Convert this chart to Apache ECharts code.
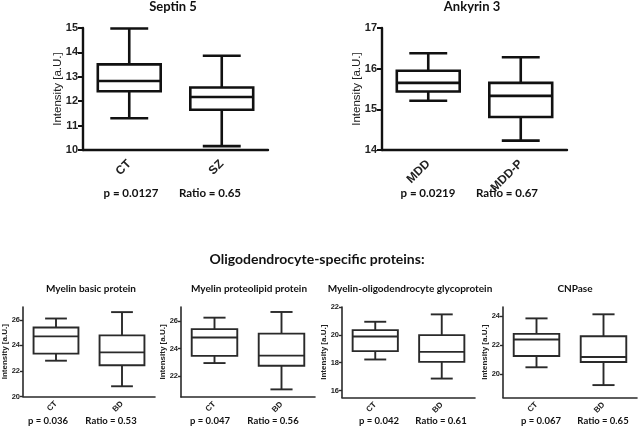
<!DOCTYPE html>
<html><head><meta charset="utf-8">
<script src="https://cdn.jsdelivr.net/npm/echarts@6/dist/echarts.min.js"></script>
<style>html,body{margin:0;padding:0;background:#fff}#c{width:640px;height:427px}</style>
</head><body><div id="c"></div>
<script>
// ---- data ----
const septinCats = ['CT', 'SZ'];
const septinVals = [[11.3, 12.41, 12.83, 13.51, 14.98], [10.16, 11.65, 12.17, 12.56, 13.86]]; // min,q1,med,q3,max
const septinTicks = [10, 11, 12, 13, 14, 15];

const ankCats = ['MDD', 'MDD-P'];
const ankVals = [[15.21, 15.44, 15.65, 15.95, 16.38], [14.23, 14.81, 15.33, 15.65, 16.28]];
const ankTicks = [14, 15, 16, 17];

const mbpCats = ['CT', 'BD'];
const mbpVals = [[22.8, 23.35, 24.7, 25.4, 26.1], [20.8, 22.45, 23.45, 24.78, 26.6]];
const mbpTicks = [20, 22, 24, 26];

const mplpCats = ['CT', 'BD'];
const mplpVals = [[22.95, 23.47, 24.8, 25.4, 26.23], [21.05, 22.76, 23.49, 25.08, 26.64]];
const mplpTicks = [22, 24, 26];

const mogCats = ['CT', 'BD'];
const mogVals = [[18.23, 18.83, 19.88, 20.34, 20.94], [16.86, 18.06, 18.78, 19.98, 21.47]];
const mogTicks = [16, 18, 20, 22];

const cnpCats = ['CT', 'BD'];
const cnpVals = [[20.47, 21.24, 22.37, 22.76, 23.82], [19.25, 20.83, 21.17, 22.6, 24.1]];
const cnpTicks = [20, 22, 24];

const panelTitles = ['Septin 5', 'Ankyrin 3', 'Myelin basic protein', 'Myelin proteolipid protein', 'Myelin-oligodendrocyte glycoprotein', 'CNPase'];
const pTexts = ['p = 0.0127', 'p = 0.0219', 'p = 0.036', 'p = 0.047', 'p = 0.042', 'p = 0.067'];
const ratioTexts = ['Ratio = 0.65', 'Ratio = 0.67', 'Ratio = 0.53', 'Ratio = 0.56', 'Ratio = 0.61', 'Ratio = 0.65'];
const sectionTitle = 'Oligodendrocyte-specific proteins:';
const yName = 'Intensity [a.U.]';

// ---- layout ----
const panels = [
  {cats: septinCats, vals: septinVals, ticks: septinTicks, min: 10, max: 15, left: 83, top: 28, width: 185, height: 122, big: true},
  {cats: ankCats, vals: ankVals, ticks: ankTicks, min: 14, max: 17, left: 382, top: 28, width: 185, height: 122, big: true},
  {cats: mbpCats, vals: mbpVals, ticks: mbpTicks, min: 20, max: 27, left: 22, top: 307, width: 133, height: 89.5, big: false},
  {cats: mplpCats, vals: mplpVals, ticks: mplpTicks, min: 20.5, max: 27, left: 181, top: 307, width: 134, height: 90, big: false},
  {cats: mogCats, vals: mogVals, ticks: mogTicks, min: 15.5, max: 22, left: 342, top: 307, width: 133, height: 90.5, big: false},
  {cats: cnpCats, vals: cnpVals, ticks: cnpTicks, min: 18.4, max: 24.6, left: 503, top: 307, width: 134, height: 90.5, big: false}
];
const titlePos = [[173, 0], [472, 0], [91, 284], [249, 284], [410, 284], [575, 284]];
const pPos = [[131, 187, 210, 187], [428, 187, 507, 187], [48, 415.5, 111, 415.5], [210, 415.5, 273, 415.5], [379, 415.5, 441, 415.5], [541, 415.5, 603, 415.5]];

const grids = [], xAxes = [], yAxes = [], series = [], titles = [];
panels.forEach((p, i) => {
  const col = p.big ? '#111' : '#2a2a2a';
  const lw = p.big ? 2.6 : 1.9;
  grids.push({left: p.left, top: p.top, width: p.width, height: p.height});
  xAxes.push({
    type: 'category', gridIndex: i, data: p.cats,
    axisLine: {lineStyle: {color: col, width: p.big ? 2.4 : 1.6}},
    axisTick: {alignWithLabel: true, length: p.big ? 5 : 4, lineStyle: {color: col, width: p.big ? 2 : 1.4}},
    axisLabel: {rotate: 45, color: '#222', fontFamily: 'Liberation Sans', fontWeight: 'bold',
      fontSize: p.big ? 12 : 8, margin: p.big ? 12 : 6}
  });
  yAxes.push({
    type: 'value', gridIndex: i, min: p.min, max: p.max,
    splitLine: {show: false},
    axisLine: {show: true, lineStyle: {color: col, width: p.big ? 2.4 : 1.6}},
    axisTick: {show: true, customValues: p.ticks, length: p.big ? 5 : 3, lineStyle: {color: col, width: p.big ? 2 : 1.4}},
    axisLabel: {customValues: p.ticks, color: '#222', fontFamily: 'Liberation Sans', fontWeight: 'bold',
      fontSize: p.big ? 11 : 7.5, margin: p.big ? 5 : 3},
    name: yName, nameLocation: 'middle', nameRotate: 90, nameGap: p.big ? 19 : 14, nameMoveOverlap: false,
    nameTextStyle: {color: '#222', fontFamily: 'Liberation Sans', fontSize: p.big ? 11.5 : 8, fontWeight: p.big ? 'normal' : 'bold'}
  });
  const boxFrac = 0.68, capFrac = p.big ? 0.41 : 0.33;
  series.push({
    type: 'custom', xAxisIndex: i, yAxisIndex: i,
    data: p.vals.map((v, k) => [k].concat(v)),
    encode: {x: 0, y: [1, 2, 3, 4, 5]},
    renderItem: function (params, api) {
      const k = api.value(0);
      const cx = api.coord([k, 0])[0];
      const band = api.size([1, 0])[0];
      const bw = band * boxFrac, cw = band * capFrac;
      const y = [1, 2, 3, 4, 5].map(j => api.coord([k, api.value(j)])[1]);
      const st = {stroke: col, lineWidth: lw, fill: null};
      const line = (x1, y1, x2, y2) => ({type: 'line', shape: {x1, y1, x2, y2}, style: st});
      return {type: 'group', children: [
        line(cx, y[3], cx, y[4]),
        line(cx, y[1], cx, y[0]),
        line(cx - cw / 2, y[4], cx + cw / 2, y[4]),
        line(cx - cw / 2, y[0], cx + cw / 2, y[0]),
        {type: 'rect', shape: {x: cx - bw / 2, y: y[3], width: bw, height: y[1] - y[3]}, style: {stroke: col, lineWidth: lw, fill: '#fff'}},
        line(cx - bw / 2, y[2], cx + bw / 2, y[2])
      ]};
    }
  });
  titles.push({text: panelTitles[i], left: titlePos[i][0], top: titlePos[i][1], textAlign: 'center',
    textStyle: {fontFamily: 'Lato', fontWeight: 'bold', fontSize: p.big ? 13 : 10, color: '#111'}});
  const pt = {fontFamily: 'Lato', fontWeight: 'bold', fontSize: p.big ? 11.5 : 9.5, color: '#111'};
  titles.push({text: pTexts[i], left: pPos[i][0], top: pPos[i][1], textAlign: 'center', textStyle: pt});
  titles.push({text: ratioTexts[i], left: pPos[i][2], top: pPos[i][3], textAlign: 'center', textStyle: pt});
});
titles.push({text: sectionTitle, left: 317, top: 252, textAlign: 'center',
  textStyle: {fontFamily: 'Lato', fontWeight: 'bold', fontSize: 14, color: '#111'}});

const chart = echarts.init(document.getElementById('c'), null, {renderer: 'canvas'});
chart.setOption({
  animation: false, backgroundColor: '#fff',
  title: titles.map(t => Object.assign({padding: 0}, t)),
  grid: grids, xAxis: xAxes, yAxis: yAxes, series: series
});
</script></body></html>
